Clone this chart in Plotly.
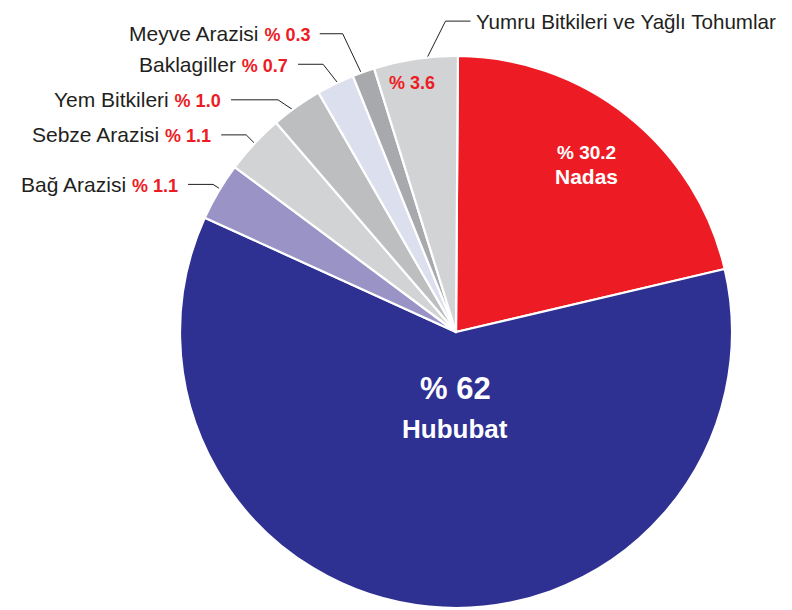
import math
import plotly.graph_objects as go

# ---- data ----
categories = ["Nadas", "Hububat", "Bağ Arazisi", "Sebze Arazisi", "Yem Bitkileri",
              "Baklagiller", "Meyve Arazisi", "Yumru Bitkileri ve Yağlı Tohumlar"]
label_pcts = ["% 30.2", "% 62", "% 1.1", "% 1.1", "% 1.0", "% 0.7", "% 0.3", "% 3.6"]
# slice sizes as drawn in the picture (the drawing is not proportional to the labels)
slice_shares = [21.2, 60.4, 3.4, 3.5, 3.0, 2.2, 1.3, 4.9]

colors = ["#ED1C24", "#2E3192", "#9A93C6", "#D1D3D4", "#BCBEC0",
          "#DCDFEE", "#A7A9AC", "#D1D3D4"]

# the page body has an 8px margin, so the figure is drawn 8px in from the window edge
PAGE_OFF = 8
W, H = 792 - PAGE_OFF, 610 - PAGE_OFF
CX, CY, R = 456 - PAGE_OFF, 332 - PAGE_OFF, 276
ROT = 0.4  # degrees clockwise from 12 o'clock where first slice starts

fig = go.Figure()

fig.add_trace(go.Pie(
    labels=categories, values=slice_shares, sort=False, direction="clockwise",
    rotation=ROT, textinfo="none", hoverinfo="label",
    marker=dict(colors=colors, line=dict(color="white", width=2.2)),
    domain=dict(x=[(CX - R) / W, (CX + R) / W], y=[(H - CY - R) / H, (H - CY + R) / H]),
    showlegend=False,
))

total = sum(slice_shares)
mids = []
acc = 0.0
for v in slice_shares:
    a0 = ROT + acc / total * 360
    acc += v
    a1 = ROT + acc / total * 360
    mids.append((a0 + a1) / 2)


def pt(angle_deg, rad):
    t = math.radians(angle_deg)
    return CX + rad * math.sin(t), CY - rad * math.cos(t)


NAME_FONT = dict(family="Liberation Sans, Arial, sans-serif", size=21, color="#231F20")
BOLD = "Liberation Sans, Arial, sans-serif"

annotations = []

# big inside labels
hx, hy = pt(mids[1], 0.28 * R)
annotations.append(dict(x=hx, y=hy, text="<b>" + label_pcts[1] + "</b>", showarrow=False,
                        font=dict(family=BOLD, size=31, color="white"), yshift=20, xshift=7))
annotations.append(dict(x=hx, y=hy, text="<b>" + categories[1] + "</b>", showarrow=False,
                        font=dict(family=BOLD, size=26, color="white"), yshift=-20, xshift=7))
nx, ny = pt(mids[0], 0.76 * R)
annotations.append(dict(x=nx, y=ny, text="<b>" + label_pcts[0] + "</b>", showarrow=False,
                        font=dict(family=BOLD, size=19, color="white"), yshift=16))
annotations.append(dict(x=nx, y=ny, text="<b>" + categories[0] + "</b>", showarrow=False,
                        font=dict(family=BOLD, size=21, color="white"), yshift=-8))

# leader lines for small slices: index -> (start frac, start angle offset, elbow frac, elbow angle offset, horiz len)
leaders = {
    2: (0.925, 0.5, 1.03, 0.7, -25),
    3: (0.935, 0.0, 1.043, 0.2, -25),
    4: (0.953, 0.0, 1.06, -2.2, -47),
    5: (0.942, 1.3, 1.083, -0.5, -25),
    6: (0.964, -0.3, 1.156, -1.2, -23),
    7: (0.98, 1.7, 1.127, 6.5, 25),
}

for i, (sf, so, ef, eo, hl) in leaders.items():
    sx, sy = pt(mids[i] + so, sf * R)
    ex, ey = pt(mids[i] + eo, ef * R)
    fx, fy = ex + hl, ey
    fig.add_trace(go.Scatter(x=[sx, ex, fx], y=[sy, ey, fy], mode="lines",
                             line=dict(color="#231F20", width=1), hoverinfo="skip",
                             showlegend=False))
    if hl < 0:
        txt = (categories[i] + " <span style='font-size:18px;color:#ED1C24'><b>"
               + label_pcts[i] + "</b></span>")
        annotations.append(dict(x=fx - 8, y=fy, text=txt, showarrow=False, xanchor="right",
                                yanchor="middle", font=NAME_FONT))
    else:
        annotations.append(dict(x=fx + 3, y=fy, text=categories[i], showarrow=False,
                                xanchor="left", yanchor="middle",
                                font=dict(NAME_FONT, size=20.6)))

# pct inside Yumru slice
yx, yy = pt(mids[7] - 1.5, 0.915 * R)
annotations.append(dict(x=yx, y=yy, text="<b>" + label_pcts[7] + "</b>", showarrow=False,
                        font=dict(family=BOLD, size=18, color="#ED1C24")))

fig.update_layout(
    width=W, height=H, margin=dict(l=0, r=0, t=0, b=0),
    paper_bgcolor="white", plot_bgcolor="rgba(0,0,0,0)",
    xaxis=dict(range=[0, W], visible=False, fixedrange=True),
    yaxis=dict(range=[H, 0], visible=False, fixedrange=True),
    annotations=annotations,
)

fig.write_html("out.html")
